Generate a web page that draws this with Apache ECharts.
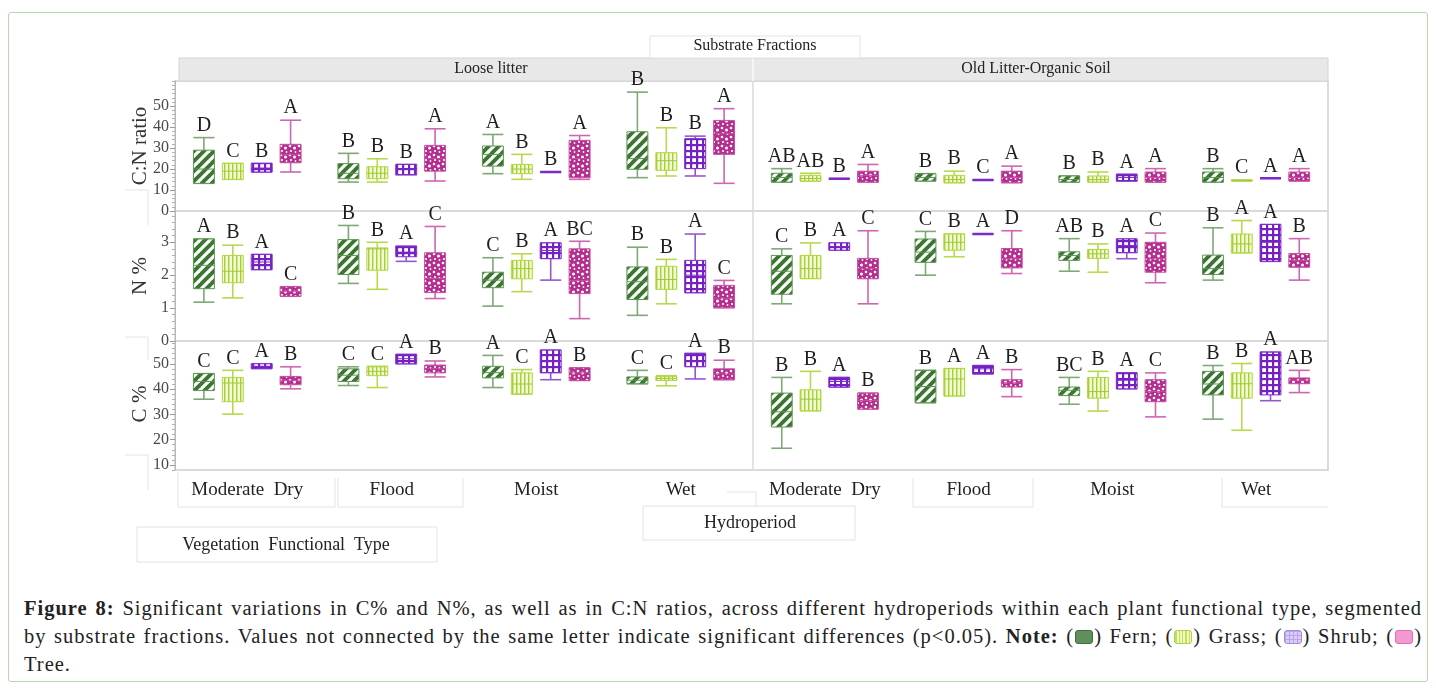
<!DOCTYPE html>
<html>
<head>
<meta charset="utf-8">
<script src="https://cdn.jsdelivr.net/npm/echarts@6/dist/echarts.min.js"></script>
<style>
  html, body { margin: 0; padding: 0; background: #fff; }
  #frame { position: absolute; left: 8px; top: 12px; width: 1418px; height: 668px;
           border: 1px solid #b9d8b1; border-radius: 3px; }
  #chart { position: absolute; left: 0; top: 0; width: 1436px; height: 585px; }
  #caption { position: absolute; left: 24px; top: 594px; width: 1398px;
             font-family: "Liberation Serif", "Times New Roman", serif; font-size: 20.5px;
             letter-spacing: 1px; line-height: 28px; color: #222; }
  #caption .j { text-align: justify; text-align-last: justify; }
  .sw { display: inline-block; width: 16px; height: 12px; border-radius: 3px;
        vertical-align: -1px; margin: 0 1px; }
  .sw.fern { background: #5e8f5c; border: 1px solid #3f6f3f; }
  .sw.grass { background: repeating-linear-gradient(90deg, #c4e05a 0 1.5px, #eef8c4 1.5px 3.5px); border: 1px solid #b3d24a; }
  .sw.shrub { background-color: #d9ccf5;
              background-image: linear-gradient(#b9a3ea 1px, transparent 1px), linear-gradient(90deg, #b9a3ea 1px, transparent 1px);
              background-size: 4px 4px; border: 1px solid #a58be0; }
  .sw.tree { background: #f29ad0; border: 1px solid #de6fb4; }
</style>
</head>
<body>
<div id="frame"></div>
<div id="chart"></div>
<div id="caption">
  <div class="j"><b>Figure 8:</b> Significant variations in C% and N%, as well as in C:N ratios, across different hydroperiods within each plant functional type, segmented</div>
  <div class="j">by substrate fractions. Values not connected by the same letter indicate significant differences (p&lt;0.05). <b>Note:</b> (<span class="sw fern"></span>) Fern; (<span class="sw grass"></span>) Grass; (<span class="sw shrub"></span>) Shrub; (<span class="sw tree"></span>)</div>
  <div>Tree.</div>
</div>
<script>
// ---- categories and labels ----
const hydroperiods = ['Moderate  Dry', 'Flood', 'Moist', 'Wet'];
const substrates = ['Loose litter', 'Old Litter-Organic Soil'];
const vegTypes = ['Fern', 'Grass', 'Shrub', 'Tree'];
const measures = ['C:N ratio', 'N %', 'C %'];

// tick labels per measure
const ticksCN = [0, 10, 20, 30, 40, 50];
const ticksN = [0, 1, 2, 3];
const ticksC = [10, 20, 30, 40, 50];

// ---- box statistics: [min, q1, median, q3, max] per hydroperiod ----
// C:N ratio, loose litter
const cnLooseFern  = [[13.2, 13.2, 20, 29.0, 35.0], [13.8, 15.4, 18, 22.6, 27.5], [17.8, 21.4, 27, 31.0, 36.5], [15.9, 19.9, 25, 37.8, 56.7]];
const cnLooseGrass = [[15.1, 15.1, 19, 22.7, 22.7], [13.8, 15.4, 18, 21.1, 24.9], [15.1, 17.8, 20, 22.2, 27.0], [16.7, 19.4, 24, 27.8, 39.7]];
const cnLooseShrub = [[18.6, 18.6, 20.5, 22.7, 22.7], [17.3, 17.3, 20, 22.2, 22.2], [18.6, 18.6, 18.6, 18.6, 18.6], [16.7, 20.2, 26, 34.5, 35.7]];
const cnLooseTree  = [[18.6, 23.0, 27, 31.8, 43.3], [14.3, 19.0, 25, 31.3, 39.2], [15.1, 15.9, 25, 33.7, 36.0], [13.2, 27.0, 37, 43.2, 48.8]];
const cnLooseLetters = [['D', 'C', 'B', 'A'], ['B', 'B', 'B', 'A'], ['A', 'B', 'B', 'A'], ['B', 'B', 'B', 'A']];
// C:N ratio, old litter-organic soil
const cnOldFern  = [[13.8, 13.8, 16, 18.0, 20.2], [14.3, 14.3, 16, 17.8, 17.8], [13.8, 13.8, 15, 16.7, 16.7], [13.8, 13.8, 16, 18.6, 20.2]];
const cnOldGrass = [[14.3, 14.3, 15.5, 17.0, 18.0], [13.5, 13.5, 15, 17.0, 19.0], [13.8, 13.8, 15, 16.7, 18.6], [14.3, 14.3, 14.6, 14.8, 14.8]];
const cnOldShrub = [[15.4, 15.4, 15.4, 15.4, 15.4], [14.8, 14.8, 14.8, 14.8, 14.8], [14.3, 14.3, 16, 17.5, 17.5], [15.6, 15.6, 15.6, 15.6, 15.6]];
const cnOldTree  = [[13.8, 13.8, 17, 19.0, 22.2], [13.5, 13.5, 16, 19.0, 21.4], [13.8, 13.8, 16, 18.6, 20.2], [14.3, 14.3, 16, 18.6, 20.2]];
const cnOldLetters = [['AB', 'AB', 'B', 'A'], ['B', 'B', 'C', 'A'], ['B', 'B', 'A', 'A'], ['B', 'C', 'A', 'A']];

// N %, loose litter
const nLooseFern  = [[1.18, 1.59, 2.3, 3.10, 3.10], [1.75, 2.02, 2.6, 3.08, 3.51], [1.06, 1.62, 1.85, 2.09, 2.53], [0.78, 1.26, 1.8, 2.25, 2.85]];
const nLooseGrass = [[1.31, 1.77, 2.12, 2.60, 2.91], [1.57, 2.15, 2.8, 2.83, 3.0], [1.50, 1.89, 2.2, 2.45, 2.65], [1.13, 1.57, 1.87, 2.27, 2.48]];
const nLooseShrub = [[2.17, 2.17, 2.4, 2.63, 2.63], [2.42, 2.56, 2.7, 2.88, 2.88], [1.85, 2.50, 2.75, 2.98, 2.98], [1.47, 1.47, 2.0, 2.45, 3.25]];
const nLooseTree  = [[1.36, 1.36, 1.5, 1.65, 1.65], [1.29, 1.47, 1.9, 2.68, 3.48], [0.68, 1.44, 1.84, 2.80, 3.03], [1.01, 1.01, 1.3, 1.69, 1.84]];
const nLooseLetters = [['A', 'B', 'A', 'C'], ['B', 'B', 'A', 'C'], ['C', 'B', 'A', 'BC'], ['B', 'B', 'A', 'C']];
// N %, old litter-organic soil
const nOldFern  = [[1.13, 1.42, 2.12, 2.60, 2.80], [2.0, 2.39, 2.7, 3.10, 3.33], [2.12, 2.45, 2.6, 2.71, 3.11], [1.85, 2.02, 2.2, 2.61, 3.44]];
const nOldGrass = [[1.90, 1.90, 2.2, 2.60, 2.98], [2.56, 2.76, 3.0, 3.25, 3.25], [2.09, 2.51, 2.65, 2.78, 2.95], [2.68, 2.68, 2.95, 3.25, 3.66]];
const nOldShrub = [[2.76, 2.76, 2.87, 2.98, 2.98], [3.25, 3.25, 3.25, 3.25, 3.25], [2.50, 2.68, 2.9, 3.10, 3.10], [2.42, 2.42, 3.0, 3.54, 3.54]];
const nOldTree  = [[1.13, 1.89, 2.2, 2.51, 3.35], [2.05, 2.22, 2.5, 2.81, 3.35], [1.77, 2.09, 2.5, 3.0, 3.28], [1.85, 2.24, 2.45, 2.66, 3.11]];
const nOldLetters = [['C', 'B', 'A', 'C'], ['C', 'B', 'A', 'D'], ['AB', 'B', 'A', 'C'], ['B', 'A', 'A', 'B']];

// C %, loose litter
const cLooseFern  = [[36.0, 39.4, 43, 46.1, 46.1], [41.4, 43.0, 45.5, 48.0, 48.8], [40.6, 44.4, 46.5, 49.0, 53.3], [42.1, 42.1, 43.5, 44.8, 47.4]];
const cLooseGrass = [[30.1, 35.0, 42.4, 44.6, 47.4], [40.6, 45.3, 47, 48.8, 49.0], [38.0, 38.1, 42, 46.4, 47.7], [41.3, 43.4, 44.2, 45.0, 45.3]];
const cLooseShrub = [[48.1, 48.1, 49, 50.0, 50.0], [50.0, 50.0, 52, 53.7, 53.7], [43.7, 46.4, 51, 55.4, 55.4], [44.0, 48.8, 51, 54.1, 54.1]];
const cLooseTree  = [[40.1, 41.7, 43.5, 45.0, 48.8], [44.8, 46.4, 48, 49.5, 51.1], [43.4, 43.4, 46.4, 48.4, 48.4], [43.7, 43.7, 46, 48.0, 51.4]];
const cLooseLetters = [['C', 'C', 'A', 'B'], ['C', 'C', 'A', 'B'], ['A', 'C', 'A', 'B'], ['C', 'C', 'A', 'B']];
// C %, old litter-organic soil
const cOldFern  = [[16.6, 25.0, 31, 38.4, 44.6], [34.6, 34.6, 41, 47.4, 47.4], [34.0, 37.4, 39.5, 40.8, 44.6], [28.1, 37.7, 42, 47.0, 49.3]];
const cOldGrass = [[31.4, 31.4, 36, 39.7, 47.0], [37.3, 37.3, 44, 48.1, 48.1], [31.3, 36.4, 39, 44.6, 47.0], [23.7, 36.4, 42.1, 46.4, 50.1]];
const cOldShrub = [[40.8, 40.8, 43, 44.6, 44.6], [46.0, 46.0, 48, 49.3, 49.3], [40.1, 40.1, 43.5, 46.4, 46.4], [35.4, 37.7, 44, 54.6, 54.6]];
const cOldTree  = [[32.1, 32.1, 35.5, 38.4, 38.4], [37.0, 40.8, 42.5, 43.7, 47.7], [29.0, 35.0, 39, 43.7, 46.4], [38.6, 42.1, 43.5, 44.4, 47.4]];
const cOldLetters = [['B', 'B', 'A', 'B'], ['B', 'A', 'A', 'B'], ['BC', 'B', 'A', 'C'], ['B', 'B', 'A', 'AB']];

// rows = measures, columns = substrates
const panels = [
  [{ boxes: [cnLooseFern, cnLooseGrass, cnLooseShrub, cnLooseTree], letters: cnLooseLetters },
   { boxes: [cnOldFern, cnOldGrass, cnOldShrub, cnOldTree], letters: cnOldLetters }],
  [{ boxes: [nLooseFern, nLooseGrass, nLooseShrub, nLooseTree], letters: nLooseLetters },
   { boxes: [nOldFern, nOldGrass, nOldShrub, nOldTree], letters: nOldLetters }],
  [{ boxes: [cLooseFern, cLooseGrass, cLooseShrub, cLooseTree], letters: cLooseLetters },
   { boxes: [cOldFern, cOldGrass, cOldShrub, cOldTree], letters: cOldLetters }]
];

// ---- layout ----
const SERIF = '"Liberation Serif", "Times New Roman", serif';
const colLeft = [175, 753];
const colWidth = [578, 575];
const rowTop = [81, 211, 341];
const rowHeight = [130, 130, 129];
const yRange = [[0, 62], [0, 3.95], [8, 59]];
const majorTicks = [ticksCN, ticksN, ticksC];
const minorStep = [2, 0.2, 2];
const OFFSET = [-0.3, -0.1, 0.1, 0.3];
const BOX_FRAC = 0.145;

// ---- fill patterns ----
function makeCanvas(w, h, draw) {
  const c = document.createElement('canvas');
  c.width = w; c.height = h;
  draw(c.getContext('2d'), w, h);
  return c;
}
const fernPattern = makeCanvas(10, 10, (g, w, h) => {
  g.fillStyle = '#3b7630'; g.fillRect(0, 0, w, h);
  g.strokeStyle = '#ffffff'; g.lineWidth = 3.2;
  [[-5, 5, 5, -5], [0, 10, 10, 0], [5, 15, 15, 5]].forEach(s => {
    g.beginPath(); g.moveTo(s[0], s[1]); g.lineTo(s[2], s[3]); g.stroke();
  });
});
const grassPattern = makeCanvas(4, 4, (g, w, h) => {
  g.fillStyle = '#f2f9d6'; g.fillRect(0, 0, w, h);
  g.fillStyle = '#a9cf34'; g.fillRect(0, 0, 1.4, h);
});
const shrubPattern = makeCanvas(6, 6, (g, w, h) => {
  g.fillStyle = '#ffffff'; g.fillRect(0, 0, w, h);
  g.fillStyle = '#7420c2'; g.fillRect(0, 0, w, 2.2); g.fillRect(0, 0, 2.2, h);
});
const treePattern = makeCanvas(9, 9, (g, w, h) => {
  g.fillStyle = '#b52e8e'; g.fillRect(0, 0, w, h);
  g.fillStyle = '#ffffff';
  [[2, 2, 1.3], [6.5, 4, 1.5], [3, 7, 1.1], [7.5, 8, 0.9]].forEach(d => {
    g.beginPath(); g.arc(d[0], d[1], d[2], 0, Math.PI * 2); g.fill();
  });
});
const STYLE = [
  { fill: { image: fernPattern, repeat: 'repeat' }, border: '#5d9553', whisker: '#7fa877', median: '#5d9553' },
  { fill: { image: grassPattern, repeat: 'repeat' }, border: '#b2d640', whisker: '#b7d94e', median: '#a3c93a' },
  { fill: { image: shrubPattern, repeat: 'repeat' }, border: '#7d2ac8', whisker: '#9556d2', median: '#7d2ac8' },
  { fill: { image: treePattern, repeat: 'repeat' }, border: '#c34fa2', whisker: '#cf66b1', median: '#c34fa2' }
];

function boxRenderer(t, letters) {
  return function (params, api) {
    const cat = api.value(0);
    const band = api.size([1, 0])[0];
    const cx = api.coord([cat, api.value(3)])[0] + OFFSET[t] * band;
    const w = BOX_FRAC * band;
    const yv = i => api.coord([cat, api.value(i)])[1];
    const yMin = yv(1), yQ1 = yv(2), yMed = yv(3), yQ3 = yv(4), yMax = yv(5);
    const st = STYLE[t];
    const seg = (x1, y1, x2, y2, color, lw) => ({
      type: 'line', shape: { x1, y1, x2, y2 }, style: { stroke: color, lineWidth: lw }
    });
    const h = Math.max(yQ1 - yQ3, 0);
    const children = [
      seg(cx, yMax, cx, yQ3, st.whisker, 1.6),
      seg(cx, yQ1, cx, yMin, st.whisker, 1.6),
      seg(cx - w / 2, yMax, cx + w / 2, yMax, st.whisker, 1.6),
      seg(cx - w / 2, yMin, cx + w / 2, yMin, st.whisker, 1.6),
      {
        type: 'rect',
        shape: { x: cx - w / 2, y: yQ3, width: w, height: h },
        style: h < 1 ? { fill: st.border, stroke: st.border, lineWidth: 2.6 }
                     : { fill: st.fill, stroke: st.border, lineWidth: 1 }
      }
    ];
    if (h >= 1) children.push(seg(cx - w / 2, yMed, cx + w / 2, yMed, st.median, 1));
    children.push({
      type: 'text', x: cx, y: yMax - 2,
      style: {
        text: letters[params.dataIndex][t], fill: '#1e1e1e',
        font: '20px ' + SERIF, align: 'center', verticalAlign: 'bottom'
      }
    });
    return { type: 'group', children };
  };
}

const grid = [], xAxis = [], yAxis = [], series = [];
for (let r = 0; r < 3; r++) {
  for (let c = 0; c < 2; c++) {
    const g = grid.length;
    grid.push({ left: colLeft[c], top: rowTop[r], width: colWidth[c], height: rowHeight[r] });
    xAxis.push({
      type: 'category', gridIndex: g, data: hydroperiods,
      axisLine: { show: false }, axisTick: { show: false }, splitLine: { show: false },
      axisLabel: { show: r === 2, interval: 0, margin: 11, color: '#222', fontFamily: SERIF, fontSize: 19 }
    });
    const mainY = yAxis.length;
    yAxis.push({
      type: 'value', gridIndex: g, position: 'left', offset: 0,
      min: yRange[r][0], max: yRange[r][1], splitLine: { show: false },
      axisLine: { show: c === 0, lineStyle: { color: '#b8b8b8', width: 1 } },
      axisTick: { show: c === 0, customValues: majorTicks[r], length: 5, lineStyle: { color: '#9a9a9a' } },
      axisLabel: { show: c === 0, customValues: majorTicks[r], margin: 6, color: '#4a4a4a',
                   fontFamily: SERIF, fontSize: 16 }
    });
    if (c === 0) {
      const minor = [];
      for (let v = yRange[r][0]; v <= yRange[r][1] + 1e-9; v += minorStep[r]) {
        const vv = Math.round(v * 100) / 100;
        if (majorTicks[r].indexOf(vv) < 0) minor.push(vv);
      }
      yAxis.push({
        type: 'value', gridIndex: g, position: 'left', offset: 0,
        min: yRange[r][0], max: yRange[r][1], splitLine: { show: false },
        axisLine: { show: false }, axisLabel: { show: false },
        axisTick: { show: true, customValues: minor, length: 3, lineStyle: { color: '#b0b0b0' } }
      });
    }
    const panel = panels[r][c];
    for (let t = 0; t < 4; t++) {
      series.push({
        type: 'custom', name: vegTypes[t], xAxisIndex: g, yAxisIndex: mainY,
        renderItem: boxRenderer(t, panel.letters),
        encode: { x: 0, y: [1, 2, 3, 4, 5] },
        data: panel.boxes[t].map((b, i) => [i].concat(b)),
        silent: true, animation: false
      });
    }
  }
}

// ---- frame, strips and titles ----
const graphic = [
  { type: 'rect', shape: { x: 175, y: 81, width: 1153, height: 389 },
    style: { fill: 'none', stroke: '#cfcfcf', lineWidth: 1.5 }, z: 0 },
  { type: 'line', shape: { x1: 175, y1: 211, x2: 1328, y2: 211 }, style: { stroke: '#dadada', lineWidth: 2 } },
  { type: 'line', shape: { x1: 175, y1: 341, x2: 1328, y2: 341 }, style: { stroke: '#dadada', lineWidth: 2 } },
  { type: 'line', shape: { x1: 753, y1: 81, x2: 753, y2: 470 }, style: { stroke: '#dadada', lineWidth: 1.5 } },
  // substrate strip
  { type: 'rect', shape: { x: 179, y: 58, width: 1149, height: 23 }, style: { fill: '#e8e8e8', stroke: '#d4d4d4' } },
  { type: 'line', shape: { x1: 753, y1: 58, x2: 753, y2: 81 }, style: { stroke: '#fafafa', lineWidth: 1.5 } },
  { type: 'text', x: 491, y: 69, style: { text: substrates[0], font: '16px ' + SERIF, fill: '#222', align: 'center', verticalAlign: 'middle' } },
  { type: 'text', x: 1036, y: 69, style: { text: substrates[1], font: '16px ' + SERIF, fill: '#222', align: 'center', verticalAlign: 'middle' } },
  // group titles
  { type: 'rect', shape: { x: 650, y: 36, width: 210, height: 22 }, style: { fill: '#fff', stroke: '#e2e2e2' } },
  { type: 'text', x: 755, y: 46, style: { text: 'Substrate Fractions', font: '16px ' + SERIF, fill: '#222', align: 'center', verticalAlign: 'middle' } },
  { type: 'rect', shape: { x: 643, y: 506, width: 212, height: 34 }, style: { fill: 'none', stroke: '#e2e2e2' } },
  { type: 'text', x: 750, y: 523, style: { text: 'Hydroperiod', font: '18px ' + SERIF, fill: '#222', align: 'center', verticalAlign: 'middle' } },
  { type: 'rect', shape: { x: 137, y: 527, width: 300, height: 35 }, style: { fill: 'none', stroke: '#e2e2e2' } },
  { type: 'text', x: 286, y: 545, style: { text: 'Vegetation  Functional  Type', font: '18px ' + SERIF, fill: '#222', align: 'center', verticalAlign: 'middle' } },
  // faint label boxes under the hydroperiod names
  { type: 'polyline', shape: { points: [[178, 470], [178, 507], [335, 507], [335, 478]] }, style: { fill: 'none', stroke: '#e4e4e4' } },
  { type: 'polyline', shape: { points: [[338, 478], [338, 507], [463, 507], [463, 478]] }, style: { fill: 'none', stroke: '#e4e4e4' } },
  { type: 'polyline', shape: { points: [[727, 492], [756, 492], [756, 507]] }, style: { fill: 'none', stroke: '#e4e4e4' } },
  { type: 'polyline', shape: { points: [[913, 478], [913, 507], [1033, 507], [1033, 478]] }, style: { fill: 'none', stroke: '#e4e4e4' } },
  { type: 'polyline', shape: { points: [[1222, 478], [1222, 507], [1328, 507]] }, style: { fill: 'none', stroke: '#e4e4e4' } },
  // faint boxes left of the axis
  { type: 'polyline', shape: { points: [[125, 190], [148, 190], [148, 225]] }, style: { fill: 'none', stroke: '#e4e4e4' } },
  { type: 'polyline', shape: { points: [[125, 337], [148, 337], [148, 360]] }, style: { fill: 'none', stroke: '#e4e4e4' } },
  { type: 'polyline', shape: { points: [[125, 455], [148, 455], [148, 490]] }, style: { fill: 'none', stroke: '#e4e4e4' } }
];
const nameY = [146, 276, 404];
measures.forEach((m, r) => {
  graphic.push({
    type: 'text', x: 140, y: nameY[r], rotation: Math.PI / 2,
    style: { text: m, font: '21px ' + SERIF, fill: '#333', align: 'center', verticalAlign: 'middle' }
  });
});

const chart = echarts.init(document.getElementById('chart'), null, { renderer: 'canvas' });
chart.setOption({
  backgroundColor: 'transparent',
  animation: false,
  grid, xAxis, yAxis, series, graphic
});
</script>
</body>
</html>
